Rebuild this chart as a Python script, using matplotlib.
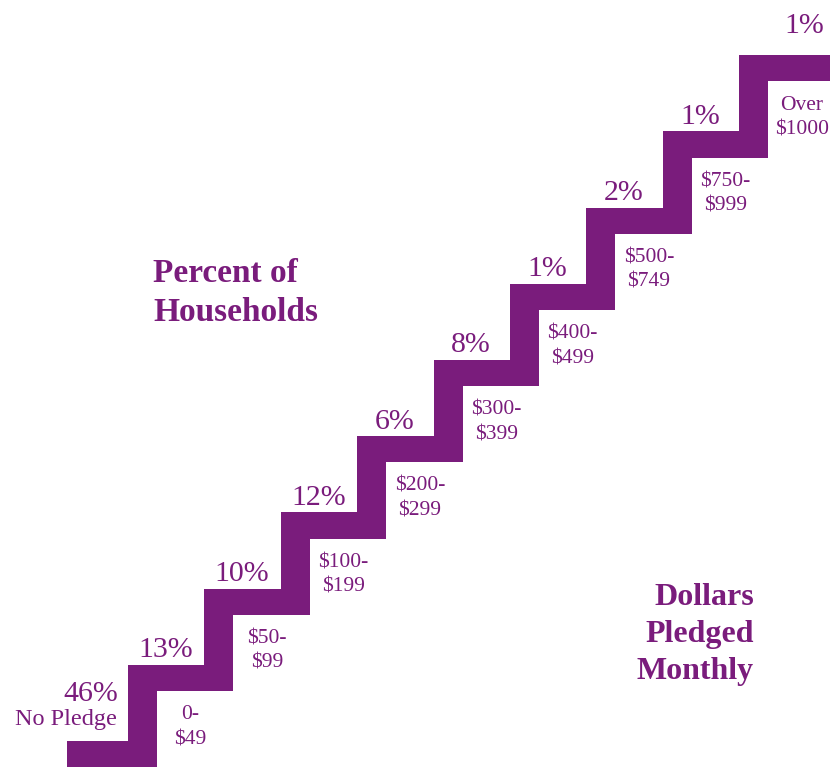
import numpy as np
import matplotlib; matplotlib.use("Agg")
import matplotlib.pyplot as plt

plt.rcParams.update({"font.family": ["Liberation Serif", "DejaVu Serif"]})

PURPLE = "#7a1c7c"

# category labels (first one is the "No Pledge" landing) and share of households
categories = ["No Pledge", "0-\n$49", "$50-\n$99", "$100-\n$199", "$200-\n$299",
              "$300-\n$399", "$400-\n$499", "$500-\n$749", "$750-\n$999", "Over\n$1000"]
percents = [46, 13, 10, 12, 6, 8, 1, 2, 1, 1]


def stair_outline(n, riser_w=0.38, tread_t=0.345, start=-0.8, end=9.19):
    # upper edge: landing, then up/right for each step
    top = [(start, 0)]
    for i in range(n - 1):
        top += [(i, i), (i, i + 1)]
    top.append((end, n - 1))
    # lower edge going back down
    bot = [(end, n - 1 - tread_t)]
    for i in range(n - 2, -1, -1):
        bot += [(i + riser_w, i + 1 - tread_t), (i + riser_w, i - tread_t)]
    bot.append((start, -tread_t))
    pts = np.array(top + bot)
    return pts[:, 0], pts[:, 1]


fig = plt.figure(figsize=(8.32, 7.67), dpi=100)
ax = fig.add_axes([0, 0, 1, 1])
ax.set_xlim(-1.675, 9.215)
ax.set_ylim(-0.341, 9.724)
ax.axis("off")

xs, ys = stair_outline(len(percents))
ax.fill(xs, ys, color=PURPLE, lw=0)

# landing: 46% / No Pledge
ax.text(-0.13, 0.62, f"{percents[0]}%", ha="right", va="center", fontsize=21.5, color=PURPLE)
ax.text(-0.15, 0.28, categories[0], ha="right", va="center", fontsize=17.5, color=PURPLE)

for i in range(1, len(percents)):
    last = i == len(percents) - 1
    px = (i - 1) + (0.85 if last else 0.49)
    py = i + (0.29 if last else 0.1)
    ax.text(px, py, f"{percents[i]}%", ha="center", va="baseline", fontsize=21.5, color=PURPLE)
    ax.text((i - 1) + 0.82, i - 0.82, categories[i], ha="center", va="center",
            fontsize=15.5, color=PURPLE, linespacing=1.4)

fig.text(0.184, 0.618, "Percent of\nHouseholds", ha="left", va="center", fontsize=24,
         fontweight="bold", color=PURPLE, linespacing=1.3)
fig.text(0.906, 0.173, "Dollars\nPledged\nMonthly", ha="right", va="center", fontsize=23,
         fontweight="bold", color=PURPLE, linespacing=1.35, multialignment="right")

fig.savefig("out.png", dpi=100)
